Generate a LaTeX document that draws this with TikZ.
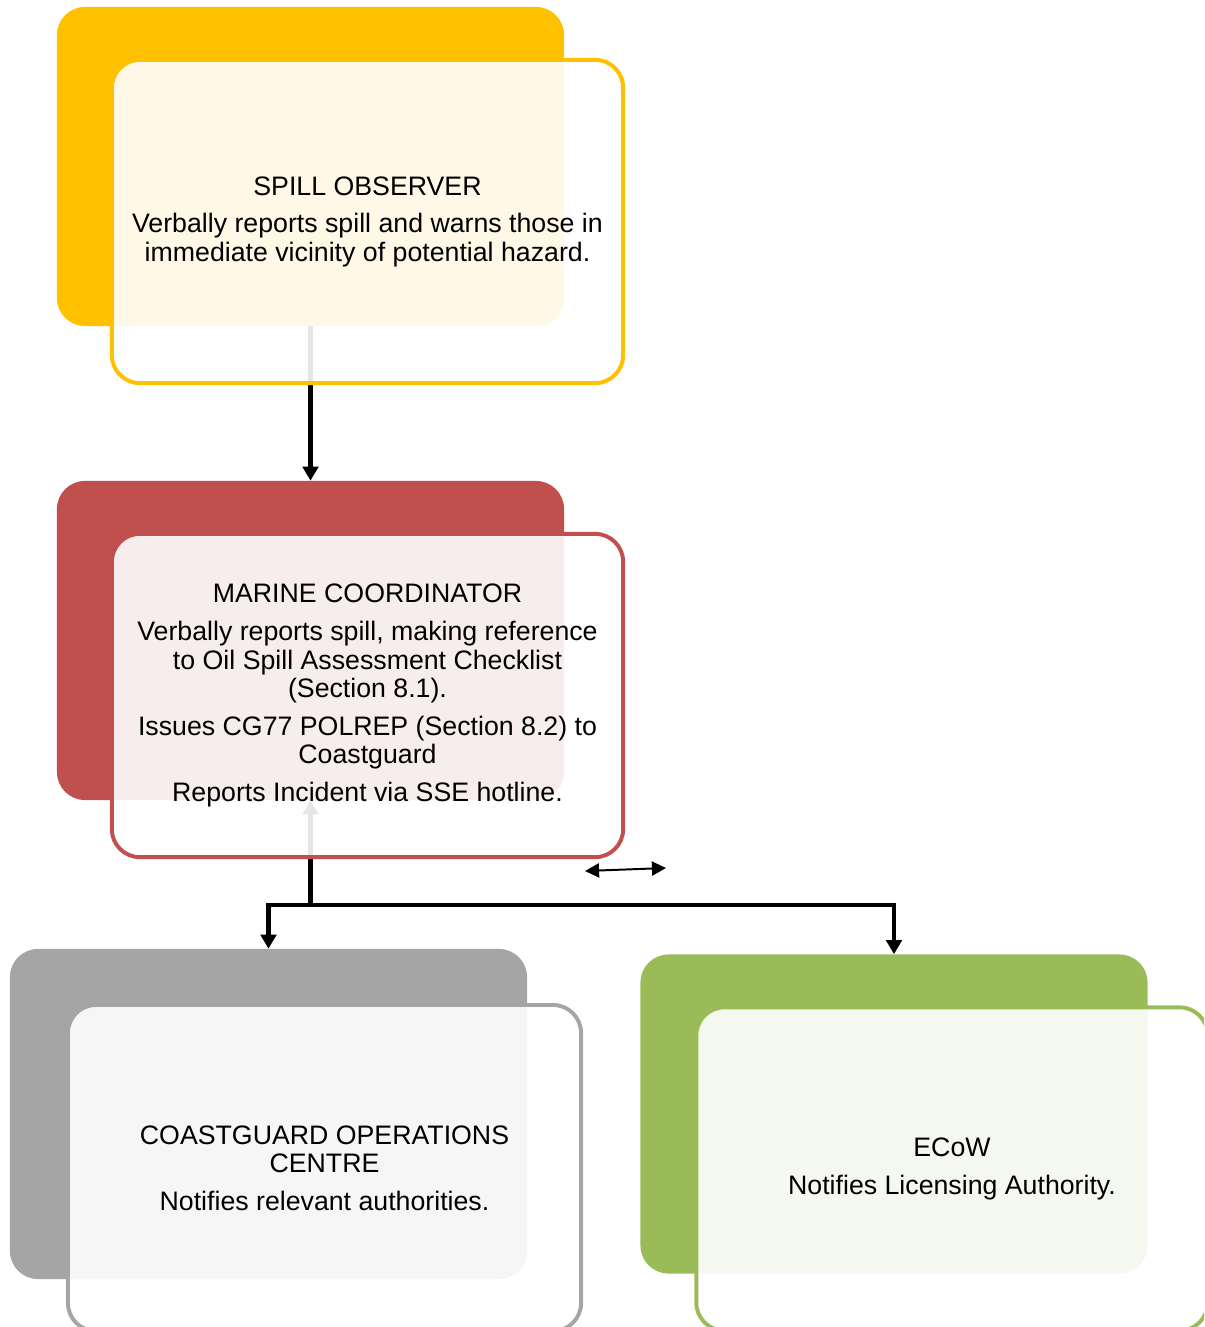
\documentclass[tikz,border=0pt]{standalone}
\usepackage{fontspec}
\setmainfont{Liberation Sans}
\usetikzlibrary{
  arrows.meta,
  calc,
  positioning,
}
\definecolor{obsyellow}{HTML}{FFC000}
\definecolor{marred}{HTML}{C0504D}
\definecolor{cggray}{HTML}{A5A5A5}
\definecolor{ecowgreen}{HTML}{9BBB59}
\tikzset{
  >={Triangle[width=11pt,length=10pt]},
  shorten >=0pt,
  backbox/.style={fill=#1, rounded corners=0.7cm, minimum width=12.675cm, minimum height=7.975cm, inner sep=0pt},
  frontbox/.style={draw=#1, line width=2.8pt, fill=white, fill opacity=0.9, text opacity=1, rounded corners=0.7cm,
    minimum width=12.78cm, minimum height=8.08cm, inner sep=0pt, align=center, font=\fontsize{19}{20}\selectfont},
  link/.style={draw=black, line width=3.4pt, ->},
}
\begin{document}
\begin{tikzpicture}[x=0.025cm, y=-0.025cm]
      \useasboundingbox (0,0) rectangle (1204,1327);
      \clip (0,0) rectangle (1204,1327);
      \node [backbox=obsyellow] (obsback) at (310.5,166.5) {};
      \node [backbox=marred] (marback) at (310.5,640.5) {};
      \node [backbox=cggray, minimum width=12.925cm, minimum height=8.25cm] (cgback) at (268.5,1114) {};
      \node [backbox=ecowgreen] (ecowback) at (894,1114) {};
      \coordinate (split) at (310.5,905);
      \draw [link] (obsback.south) -- (marback.north);
      \draw [link] (split) -- (marback.south);
      \draw [link] (split) -| (cgback.north);
      \draw [link] (split) -| (ecowback.north);
      \node [frontbox=obsyellow] (obs) at ($(obsback)+(57,55)$)
        {SPILL OBSERVER\\[7pt]Verbally reports spill and warns those in\\immediate vicinity of potential hazard.};
      \node [frontbox=marred] (mar) at ($(marback)+(57,55)$)
        {MARINE COORDINATOR\\[7pt]Verbally reports spill, making reference\\to Oil Spill Assessment Checklist\\(Section 8.1).\\[7pt]Issues CG77 POLREP (Section 8.2) to\\Coastguard\\[7pt]Reports Incident via SSE hotline.};
      \node [frontbox=cggray, minimum width=12.825cm, minimum height=8.15cm] (cg) at ($(cgback)+(56,54)$)
        {COASTGUARD OPERATIONS\\CENTRE\\[7pt]Notifies relevant authorities.};
      \node [frontbox=ecowgreen] (ecow) at ($(ecowback)+(58,55)$)
        {ECoW\\[7pt]Notifies Licensing Authority.};
      \coordinate (swapl) at (585,871);
      \coordinate (swapr) at (666,868);
      \draw [{Triangle[width=10pt,length=10pt]}-{Triangle[width=10pt,length=10pt]}, line width=1.4pt] (swapl) -- (swapr);
    \end{tikzpicture}
\end{document}
